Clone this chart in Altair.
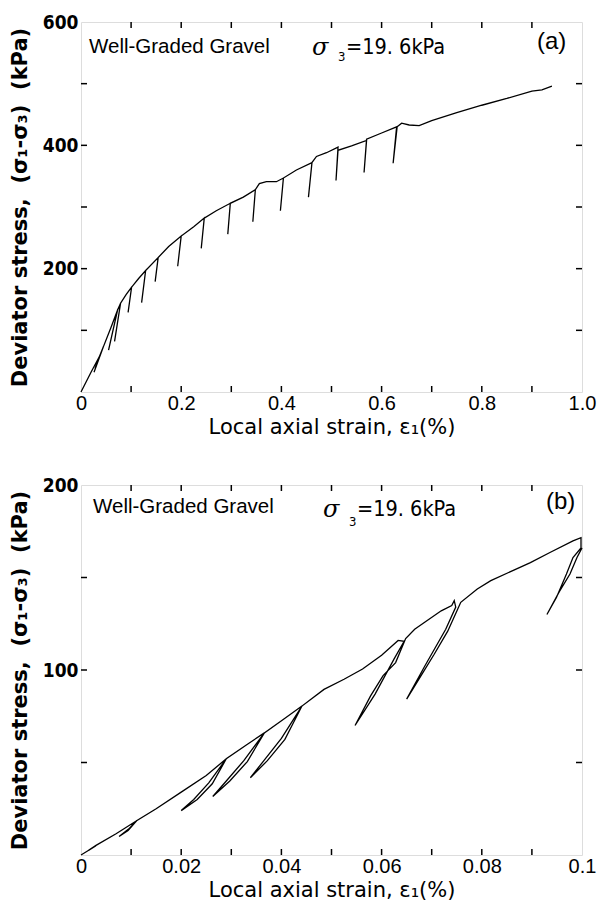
import altair as alt
import pandas as pd

# ---------------- data: panel (a) ----------------
a_strain = [0, 0.02, 0.037, 0.028, 0.037, 0.045, 0.026, 0.045, 0.06,
            0.073, 0.055, 0.073, 0.079, 0.067, 0.079, 0.09,
            0.101, 0.094, 0.101, 0.115, 0.129, 0.121, 0.129,
            0.154, 0.148, 0.154, 0.175, 0.2, 0.193, 0.2, 0.225,
            0.246, 0.24, 0.246, 0.27, 0.298, 0.293, 0.298, 0.324,
            0.348, 0.343, 0.348, 0.356, 0.37, 0.39,
            0.404, 0.398, 0.404, 0.43, 0.461, 0.454, 0.461, 0.47, 0.49,
            0.513, 0.509, 0.513, 0.54, 0.57, 0.565, 0.57, 0.6,
            0.63, 0.623, 0.631, 0.64, 0.655, 0.675, 0.7, 0.75, 0.8, 0.85,
            0.9, 0.92, 0.94]
a_stress = [0, 32, 58, 38, 58, 74, 32, 74, 105,
            133, 68, 133, 144, 82, 144, 158,
            170, 129, 170, 184, 197, 145, 197,
            218, 179, 218, 236, 253, 204, 253, 268,
            282, 233, 282, 294, 306, 256, 306, 316,
            328, 276, 328, 338, 341, 341,
            347, 294, 347, 360, 372, 316, 372, 382, 388,
            397, 343, 392, 399, 408, 356, 410, 420,
            430, 371, 430, 436, 433, 432, 440, 453, 465, 476,
            488, 490, 496]

# ---------------- data: panel (b) ----------------
b_strain = [0, 0.003, 0.0015, 0.003, 0.007,
            0.0111, 0.0095, 0.0076, 0.0094, 0.0111,
            0.015, 0.02, 0.025,
            0.029, 0.0255, 0.0225, 0.02, 0.0232, 0.0262, 0.029,
            0.033,
            0.0366, 0.0325, 0.029, 0.0263, 0.0297, 0.0332, 0.0366,
            0.0405,
            0.0441, 0.04, 0.0365, 0.0338, 0.0372, 0.0407, 0.0441,
            0.0485, 0.0525, 0.0562, 0.06,
            0.0633, 0.0645, 0.0625, 0.0587, 0.0547, 0.0578, 0.0603, 0.0628, 0.0648,
            0.0666, 0.0686, 0.0719, 0.074,
            0.0745, 0.0748, 0.0728, 0.0686, 0.065, 0.068, 0.0705, 0.0732, 0.0752,
            0.0758, 0.0791, 0.0818, 0.0864, 0.0897, 0.0936, 0.0982, 0.0998,
            0.0998, 0.0982, 0.0969, 0.0949, 0.093, 0.0955, 0.0976, 0.099, 0.1]
b_stress = [0, 5, 2.5, 5.2, 11.5,
            18.5, 14, 10, 13.2, 18.5,
            25, 34, 43,
            52, 39, 30, 24, 30, 38.5, 52,
            59.5,
            66, 51, 40, 31.6, 40, 50.5, 66,
            73.5,
            80.5, 63, 51, 41.8, 51, 62.5, 80.5,
            89.5, 95, 100.5, 108,
            116, 115.5, 106, 87, 70, 86, 97, 104, 117,
            122, 125.8, 132, 134.8,
            137.5, 134, 122, 102, 84.3, 97.5, 108.5, 121, 133,
            136.6, 143.8, 148.3, 154, 158, 163.5, 169.8, 171.5,
            166, 160.8, 151.9, 139.2, 130, 142.5, 151.9, 160.8, 166]

# ---------------- axes ----------------
a_xticks = [0.1, 0.2, 0.3, 0.4, 0.5, 0.6, 0.7, 0.8, 0.9]
a_yticks = [100, 200, 300, 400, 500]
a_xlabels = [0, 0.2, 0.4, 0.6, 0.8, 1.0]
a_ylabels = [200, 400, 600]
b_xticks = [0.01, 0.02, 0.03, 0.04, 0.05, 0.06, 0.07, 0.08, 0.09]
b_yticks = [50, 100, 150]
b_xlabels = [0, 0.02, 0.04, 0.06, 0.08, 0.1]
b_ylabels = [100, 200]

material = "Well-Graded Gravel"
sigma_sym = "σ"
sigma_sub = "3"
sigma_val = "=19. 6kPa"
tags = ["(a)", "(b)"]

X_TITLE = "Local axial strain, ε₁(%)"
Y_TITLE = "Deviator stress,\u00a0\u00a0(σ₁-σ₃)\u00a0\u00a0(kPa)"

W = 501


def panel(strain, stress, xmax, ymax, xticks, yticks, xlabels, ylabels,
          label_expr, tag, H, pos):
    xs = alt.Scale(domain=[0, xmax], nice=False, zero=False)
    ys = alt.Scale(domain=[0, ymax], nice=False, zero=False)
    xaxis = alt.Axis(values=xlabels, labelExpr=label_expr, ticks=False, domain=False,
                     grid=False, labelFont="Liberation Sans", labelFontSize=20,
                     labelColor="black", labelPadding=1, labelFlush=False,
                     labelOverlap=False, title=X_TITLE, titleFont="DejaVu Sans",
                     titleFontSize=21, titleFontWeight="normal", titleColor="black",
                     titlePadding=3)
    yaxis = alt.Axis(values=ylabels, format="d", ticks=False, domain=False, grid=False,
                     labelFont="DejaVu Sans Condensed", labelFontWeight="bold",
                     labelFontSize=19, labelColor="black", labelPadding=3,
                     labelFlush=False, labelOverlap=False, title=Y_TITLE,
                     titleFont="DejaVu Sans", titleFontWeight="bold",
                     titleFontSize=21, titleColor="black", titlePadding=12)
    X = alt.X("x:Q", scale=xs, axis=xaxis)
    Y = alt.Y("y:Q", scale=ys, axis=yaxis)

    df = pd.DataFrame({"x": strain, "y": stress, "i": list(range(len(strain)))})
    line = alt.Chart(df).mark_line(color="black", strokeWidth=1.3).encode(
        x=X, y=Y, order="i:Q")

    xt = pd.DataFrame({"x": xticks})
    yt = pd.DataFrame({"y": yticks})
    rule = dict(color="black", strokeWidth=1.5)
    bt = alt.Chart(xt).mark_rule(**rule).encode(x=X, y=alt.value(H), y2=alt.value(H - 6))
    tt = alt.Chart(xt).mark_rule(**rule).encode(x=X, y=alt.value(0), y2=alt.value(6))
    lt = alt.Chart(yt).mark_rule(**rule).encode(y=Y, x=alt.value(0), x2=alt.value(6))
    rt = alt.Chart(yt).mark_rule(**rule).encode(y=Y, x=alt.value(W), x2=alt.value(W - 6))

    def txt(s, x, y, size, font, weight="normal", style="normal"):
        return alt.Chart(pd.DataFrame({"t": [s]})).mark_text(
            align="left", baseline="middle", font=font, fontSize=size,
            fontWeight=weight, fontStyle=style, color="black").encode(
            text="t:N", x=alt.value(x), y=alt.value(y))

    layers = [line, bt, tt, lt, rt,
              txt(material, pos[0], pos[1], 20.5, "Liberation Sans"),
              txt(sigma_sym, pos[2], pos[3], 24, "DejaVu Serif", style="italic"),
              txt(sigma_sub, pos[4], pos[5], 13, "DejaVu Sans Condensed"),
              txt(sigma_val, pos[6], pos[7], 21.5, "DejaVu Sans Condensed"),
              txt(tag, pos[8], pos[9], 24, "Liberation Sans")]
    return alt.layer(*layers).properties(width=W, height=H)


pa = panel(a_strain, a_stress, 1.0, 600, a_xticks, a_yticks, a_xlabels, a_ylabels,
           "datum.value == 0 ? '0' : format(datum.value, '.1f')", tags[0], 370,
           [8, 25, 231, 26, 257, 35, 265, 26, 456, 20])
pb = panel(b_strain, b_stress, 0.1, 200, b_xticks, b_yticks, b_xlabels, b_ylabels,
           "datum.value == 0 ? '0' : (datum.value > 0.099 ? '0.1' : format(datum.value, '.2f'))",
           tags[1], 370, [12, 22, 242, 25, 268, 37, 276, 25, 465, 17])

chart = alt.vconcat(pa, pb, spacing=37).properties(
    padding={"left": 0, "top": 4, "right": 0, "bottom": 0}
).configure_view(stroke="black", strokeWidth=1.8).configure(background="white")

chart.save("out.html", embed_options={"renderer": "svg", "actions": False})
